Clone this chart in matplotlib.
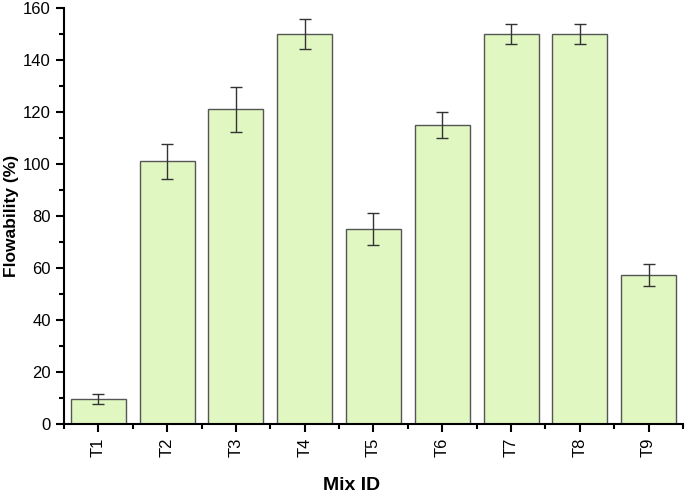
import numpy as np
import matplotlib.pyplot as plt
from matplotlib.ticker import MultipleLocator

plt.rcParams['font.family'] = ['Liberation Sans', 'DejaVu Sans']

# Data
mixes = ['T1', 'T2', 'T3', 'T4', 'T5', 'T6', 'T7', 'T8', 'T9']
flowability = [9.7, 101, 121, 150, 75, 115, 150, 150, 57.3]
errors = [2.0, 6.7, 8.5, 5.6, 6.0, 5.0, 4.0, 3.7, 4.2]

x = np.arange(1, len(mixes) + 1)

fig = plt.figure(figsize=(6.85, 4.95), dpi=100)
ax = fig.add_axes([0.0934, 0.1434, 0.9036, 0.8404])

ax.bar(x, flowability, width=0.8, color='#e0f7c1', edgecolor='#555555', linewidth=1.0,
       yerr=errors, error_kw=dict(ecolor='#333333', elinewidth=1.0, capsize=4, capthick=1.0))

ax.set_xlim(0.5, 9.5)
ax.set_ylim(0, 160)
ax.set_xticks(x)
ax.set_xticklabels(mixes, rotation=90, fontsize=12)
ax.xaxis.set_minor_locator(MultipleLocator(1, offset=0.5))
ax.yaxis.set_major_locator(MultipleLocator(20))
ax.yaxis.set_minor_locator(MultipleLocator(10))
ax.tick_params(axis='y', labelsize=12)
ax.tick_params(which='major', direction='out', length=6, width=1.5)
ax.tick_params(which='minor', direction='out', length=3.5, width=1.5)

ax.set_xlabel('Mix ID', fontsize=14, weight='bold')
ax.xaxis.set_label_coords(0.465, -0.128)
ax.set_ylabel('Flowability (%)', fontsize=12.5, weight='bold', labelpad=3)

ax.spines['top'].set_visible(False)
ax.spines['right'].set_visible(False)
ax.spines['left'].set_linewidth(1.5)
ax.spines['bottom'].set_linewidth(1.5)

fig.savefig('out.png', dpi=100)
